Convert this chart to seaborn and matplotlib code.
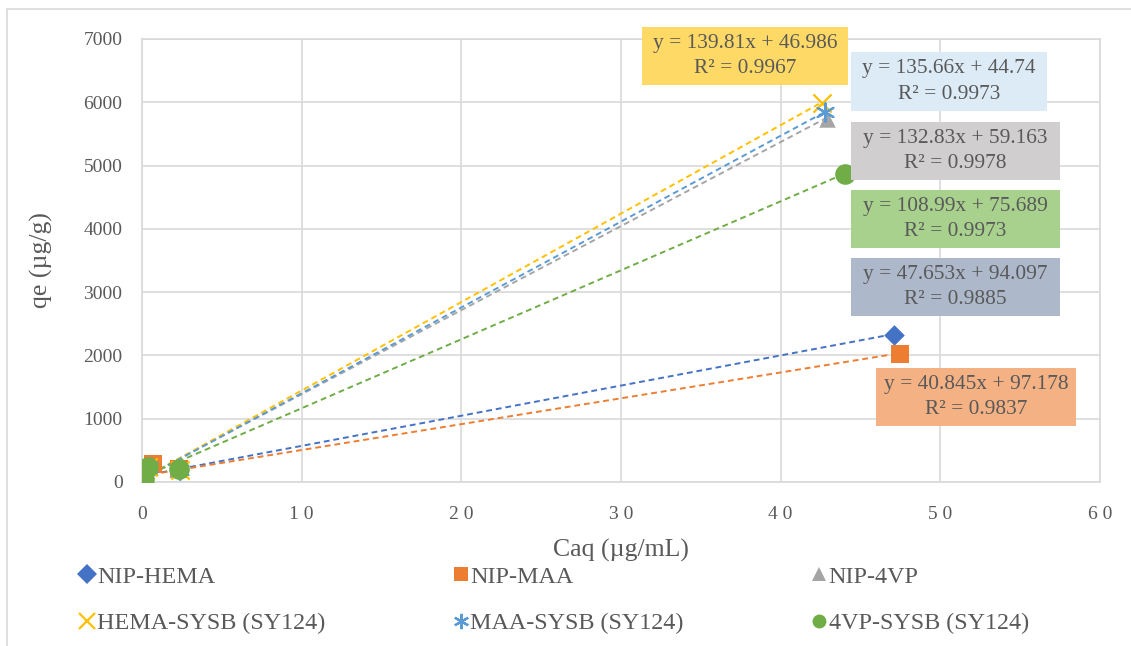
import numpy as np
import pandas as pd
import matplotlib
matplotlib.use("Agg")
import matplotlib.pyplot as plt
import seaborn as sns
from matplotlib.lines import Line2D
from matplotlib.patches import Rectangle

# ---------------- data ----------------
series = ["NIP-HEMA", "NIP-MAA", "NIP-4VP",
          "HEMA-SYSB (SY124)", "MAA-SYSB (SY124)", "4VP-SYSB (SY124)"]
caq_nip_hema = [0.02, 0.15, 0.5, 2.3, 47.1]
qe_nip_hema = [10, 60, 200, 185, 2330]
caq_nip_maa = [0.03, 0.2, 0.7, 2.3, 47.5]
qe_nip_maa = [15, 80, 290, 200, 2030]
caq_nip_4vp = [0.02, 0.15, 0.5, 2.2, 42.9]
qe_nip_4vp = [10, 50, 230, 200, 5740]
caq_hema_sysb = [0.01, 0.1, 0.4, 2.4, 42.6]
qe_hema_sysb = [8, 40, 230, 190, 5990]
caq_maa_sysb = [0.01, 0.1, 0.45, 2.35, 42.75]
qe_maa_sysb = [8, 45, 240, 195, 5850]
caq_4vp_sysb = [0.02, 0.12, 0.4, 2.3, 44.0]
qe_4vp_sysb = [10, 40, 240, 205, 4870]

slopes = [47.653, 40.845, 132.83, 139.81, 135.66, 108.99]
intercepts = [94.097, 97.178, 59.163, 46.986, 44.74, 75.689]
r2 = ["0.9885", "0.9837", "0.9978", "0.9967", "0.9973", "0.9973"]
x_ticks = [0, 10, 20, 30, 40, 50, 60]
y_ticks = [0, 1000, 2000, 3000, 4000, 5000, 6000, 7000]

caqs = [caq_nip_hema, caq_nip_maa, caq_nip_4vp, caq_hema_sysb, caq_maa_sysb, caq_4vp_sysb]
qes = [qe_nip_hema, qe_nip_maa, qe_nip_4vp, qe_hema_sysb, qe_maa_sysb, qe_4vp_sysb]

rows = []
for name, cs, qs in zip(series, caqs, qes):
    for c, q in zip(cs, qs):
        rows.append({"series": name, "Caq": c, "qe": q})
df = pd.DataFrame(rows)

# ---------------- style ----------------
colors = ["#4472C4", "#ED7D31", "#A5A5A5", "#FFC000", "#5B9BD5", "#70AD47"]
markers = ["D", "s", "^", "x", (6, 2, 0), "o"]
msizes = [110, 150, 140, 170, 170, 220]
box_colors = ["#ADB9CA", "#F4B183", "#D0CECE", "#FFD966", "#DDEBF7", "#A9D18E"]

sns.set_theme(style="white")
plt.rcParams["font.family"] = ["Liberation Serif", "DejaVu Serif"]
txt = "#595959"
grid = "#D9D9D9"

W, H = 1131, 646
fig = plt.figure(figsize=(W / 100, H / 100), dpi=100)
ax = fig.add_axes([142 / W, 1 - 482 / H, (1100 - 142) / W, (482 - 39) / H])

# trendlines
for i, name in enumerate(series):
    xs = np.array([min(caqs[i]), max(caqs[i])])
    tl = pd.DataFrame({"x": xs, "y": slopes[i] * xs + intercepts[i]})
    sns.lineplot(data=tl, x="x", y="y", ax=ax, color=colors[i], lw=1.4,
                 linestyle=(0, (3, 2)), zorder=2, legend=False)

# points
for i, name in enumerate(series):
    sub = df[df["series"] == name]
    lw = 1.6 if markers[i] in ("x", (6, 2, 0)) else 0
    sns.scatterplot(data=sub, x="Caq", y="qe", ax=ax, color=colors[i],
                    marker=markers[i], s=msizes[i], linewidth=lw,
                    edgecolor=colors[i], zorder=3, legend=False)

ax.set_xlim(0, 60)
ax.set_ylim(0, 7000)
ax.set_xticks(x_ticks)
ax.set_yticks(y_ticks)
ax.set_xticklabels([" ".join(str(t)) if t else "0" for t in x_ticks], fontsize=14, color=txt)
ax.set_yticklabels([str(t) for t in y_ticks], fontsize=14, color=txt)
ax.tick_params(axis="y", length=0, pad=14)
ax.tick_params(axis="x", length=0, pad=17)
ax.grid(True, color=grid, lw=1.2)
ax.set_axisbelow(True)
for sp in ax.spines.values():
    sp.set_color(grid)
    sp.set_linewidth(1.2)
ax.set_xlabel("Caq (µg/mL)", fontsize=18.5, color=txt, labelpad=12)
ax.set_ylabel("qe (µg/g)", fontsize=18.5, color=txt, labelpad=22)

# trendline equation boxes (figure pixel boxes: x0, y0, x1, y1)
boxes = [(851, 258, 1060, 316), (876, 368, 1076, 426), (851, 122, 1060, 180),
         (642, 27, 848, 85), (851, 52, 1047, 111), (851, 190, 1060, 248)]
for i, (x0, y0, x1, y1) in enumerate(boxes):
    fig.add_artist(Rectangle((x0 / W, 1 - y1 / H), (x1 - x0) / W, (y1 - y0) / H,
                             transform=fig.transFigure, facecolor=box_colors[i],
                             edgecolor="none", zorder=5))
    s = f"y = {slopes[i]}x + {intercepts[i]}\nR² = {r2[i]}"
    fig.text((x0 + x1) / 2 / W, 1 - (y0 + y1) / 2 / H, s, ha="center", va="center",
             fontsize=15.4, color=txt, zorder=6, linespacing=1.45)

# legend
handles = []
for i, name in enumerate(series):
    handles.append(Line2D([], [], linestyle="none", marker=markers[i], color=colors[i],
                          markersize=10 if markers[i] not in ("x", (6, 2, 0)) else 11,
                          markeredgewidth=1.6 if markers[i] in ("x", (6, 2, 0)) else 0,
                          label=name))
order = [0, 3, 1, 4, 2, 5]
leg = fig.legend([handles[k] for k in order], [series[k] for k in order], ncol=3,
                 loc="upper left", bbox_to_anchor=(80 / W, 1 - 566 / H),
                 frameon=False, fontsize=17.4, handlelength=0.6, handletextpad=0.1,
                 columnspacing=5.3, labelspacing=1.0, borderaxespad=0, borderpad=0)
for t in leg.get_texts():
    t.set_color(txt)

# outer chart border
fig.add_artist(Line2D([7 / W, 7 / W], [-0.01, 1 - 9 / H], transform=fig.transFigure,
                      color=grid, lw=1.2))
fig.add_artist(Line2D([7 / W, 1.01], [1 - 9 / H, 1 - 9 / H], transform=fig.transFigure,
                      color=grid, lw=1.2))

fig.savefig("out.png", dpi=100, facecolor="white")
